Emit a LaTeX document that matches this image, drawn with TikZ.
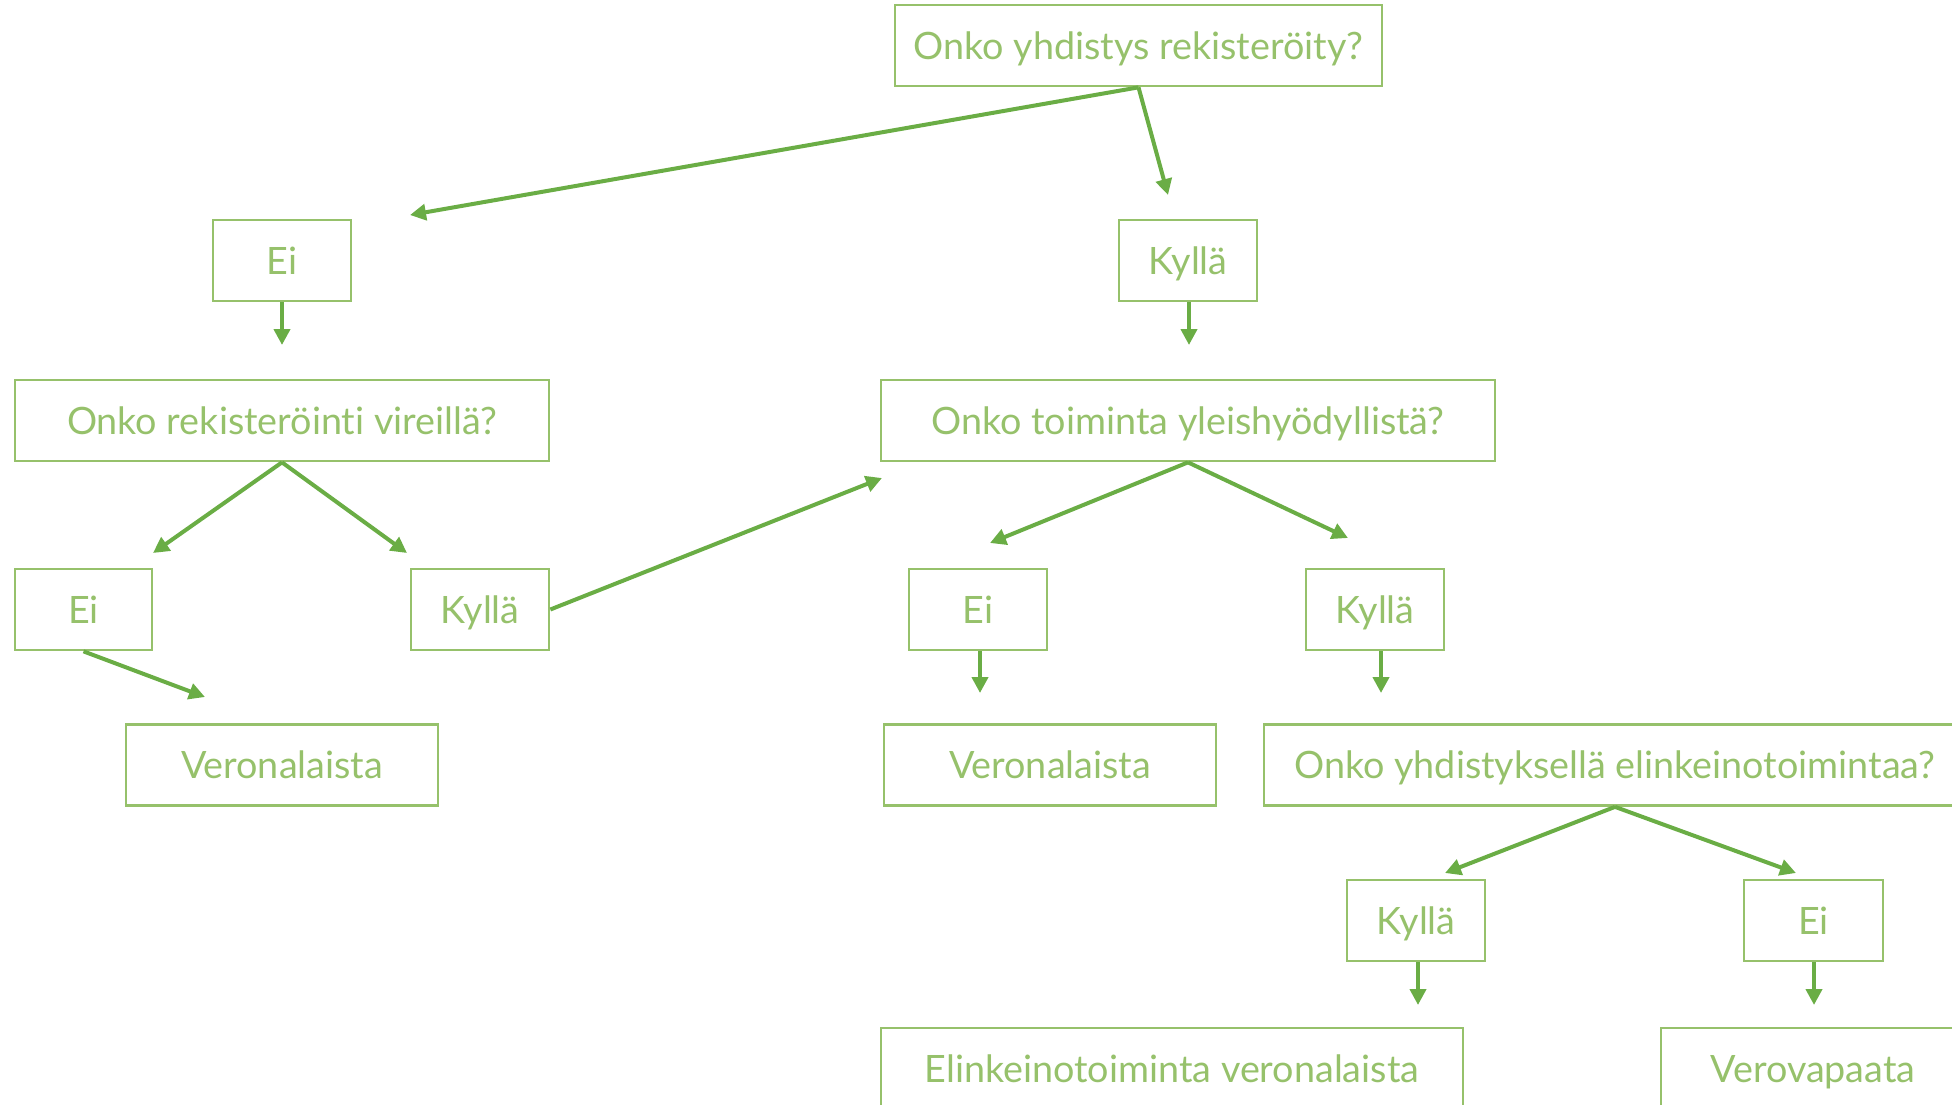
\documentclass[tikz,border=0pt]{standalone}
\usepackage{fontspec}
\setmainfont{Lato}[Ligatures=NoCommon]
\usetikzlibrary{arrows.meta}
\definecolor{boxgreen}{HTML}{96C16B}
\definecolor{arrgreen}{HTML}{6AAD45}
\tikzset{
  box/.style={draw=boxgreen, line width=2.7pt, text=boxgreen, rectangle, inner sep=0pt,
    minimum height=81pt, text height=27pt, text depth=0pt,
    font=\fontsize{37.7}{45}\selectfont, anchor=center},
  conn/.style={draw=arrgreen, line width=4pt, -{Triangle[length=16pt,width=16pt]}}
}
\begin{document}
\begin{tikzpicture}[x=1pt,y=-1pt]
\useasboundingbox (0,0) rectangle (1952,1104);
\clip (0,0) rectangle (1952,1104);
% nodes
\node[box, minimum width=487pt] (q1) at (1138.5,45.5) {Onko yhdistys rekisteröity?};
\node[box, minimum width=138pt] (ei1) at (282,260.5) {Ei};
\node[box, minimum width=138pt] (ky1) at (1188,260.5) {Kyllä};
\node[box, minimum width=534pt] (q2) at (282,420.5) {Onko rekisteröinti vireillä?};
\node[box, minimum width=614pt] (q3) at (1188,420.5) {Onko toiminta yleishyödyllistä?};
\node[box, minimum width=137pt] (ei2) at (83.5,609.5) {Ei};
\node[box, minimum width=138pt] (ky2) at (480,609.5) {Kyllä};
\node[box, minimum width=138pt] (ei3) at (978,609.5) {Ei};
\node[box, minimum width=138pt] (ky3) at (1375,609.5) {Kyllä};
\node[box, minimum width=312pt] (v1) at (282,765) {Veronalaista};
\node[box, minimum width=332pt] (v2) at (1050,765) {Veronalaista};
\node[box, minimum width=702pt] (q4) at (1615,765) {Onko yhdistyksellä elinkeinotoimintaa?};
\node[box, minimum width=138pt] (ky4) at (1416,920.5) {Kyllä};
\node[box, minimum width=139pt] (ei4) at (1813.5,920.5) {Ei};
\node[box, minimum width=582pt] (ev) at (1172,1068.5) {Elinkeinotoiminta veronalaista};
\node[box, minimum width=304pt] (vv) at (1813,1068.5) {Verovapaata};
% free ends
\coordinate (t1) at (410,215);
\coordinate (t2) at (1168,195);
\coordinate (t3) at (282,345);
\coordinate (t4) at (1189,345);
\coordinate (t5) at (153,553);
\coordinate (t6) at (407,553);
\coordinate (t7) at (205,697);
\coordinate (t8) at (882,478);
\coordinate (t9) at (990,543);
\coordinate (t10) at (1348,538);
\coordinate (t11) at (980,693);
\coordinate (t12) at (1381,693);
\coordinate (t13) at (1445,873);
\coordinate (t14) at (1796,873);
\coordinate (t15) at (1418,1005);
\coordinate (t16) at (1814,1005);
% connectors
\draw[conn] (q1.south) -- (t1);
\draw[conn] (q1.south) -- (t2);
\draw[conn] (ei1.south) -- (t3);
\draw[conn] (ky1.south -| t4) -- (t4);
\draw[conn] (q2.south) -- (t5);
\draw[conn] (q2.south) -- (t6);
\draw[conn] (ei2.south) -- (t7);
\draw[conn] (ky2.east) -- (t8);
\draw[conn] (q3.south) -- (t9);
\draw[conn] (q3.south) -- (t10);
\draw[conn] (ei3.south -| t11) -- (t11);
\draw[conn] (ky3.south -| t12) -- (t12);
\draw[conn] (q4.south) -- (t13);
\draw[conn] (q4.south) -- (t14);
\draw[conn] (ky4.south -| t15) -- (t15);
\draw[conn] (ei4.south -| t16) -- (t16);
\end{tikzpicture}
\end{document}
